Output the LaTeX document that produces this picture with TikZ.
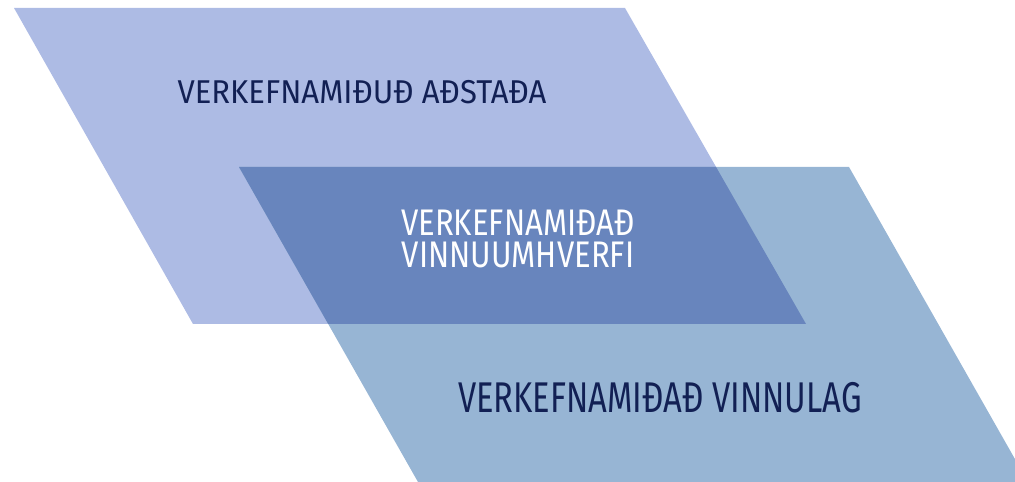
\documentclass[tikz,border=0pt]{standalone}
\usepackage{fontspec}
\newfontfamily\hand{Fira Sans}
\usetikzlibrary{positioning}

\definecolor{upc}{RGB}{173,187,228}
\definecolor{lowc}{RGB}{151,181,212}
\definecolor{midc}{RGB}{104,133,189}
\definecolor{ink}{RGB}{18,32,84}

\begin{document}
\begin{tikzpicture}[x=1pt,y=1pt,
  lbl/.style={inner sep=0pt,text=ink}]

\useasboundingbox (0,0) rectangle (1015,482);
\clip (0,0) rectangle (1015,482);

\coordinate (a1) at (14,474);
\coordinate (a2) at (625,474);
\coordinate (a3) at (806,158);
\coordinate (a4) at (193,158);
\coordinate (b1) at (239,315);
\coordinate (b2) at (849,315);
\coordinate (b3) at (1028,0);
\coordinate (b4) at (418,0);

\fill[upc] (a1) -- (a2) -- (a3) -- (a4) -- cycle;
\fill[lowc] (b1) -- (b2) -- (b3) -- (b4) -- cycle;
\begin{scope}
\clip (a1) -- (a2) -- (a3) -- (a4) -- cycle;
\fill[midc] (b1) -- (b2) -- (b3) -- (b4) -- cycle;
\end{scope}

\node[lbl,font=\hand\addfontfeature{FakeStretch=0.94}\fontsize{33}{33}\selectfont] (a) at (362,390) {VERKEFNAMIÐUÐ AÐSTAÐA};
\node[lbl,text=white,font=\hand\addfontfeature{FakeStretch=0.84}\fontsize{37}{37}\selectfont] (b) at (518,259) {VERKEFNAMIÐAÐ};
\node[lbl,text=white,font=\hand\addfontfeature{FakeStretch=0.84}\fontsize{37}{37}\selectfont,below=6pt of b] (b') {VINNUUMHVERFI};
\node[lbl,font=\hand\addfontfeature{FakeStretch=0.76}\fontsize{43}{43}\selectfont] (c) at (660,84) {VERKEFNAMIÐAÐ VINNULAG};

\end{tikzpicture}
\end{document}
